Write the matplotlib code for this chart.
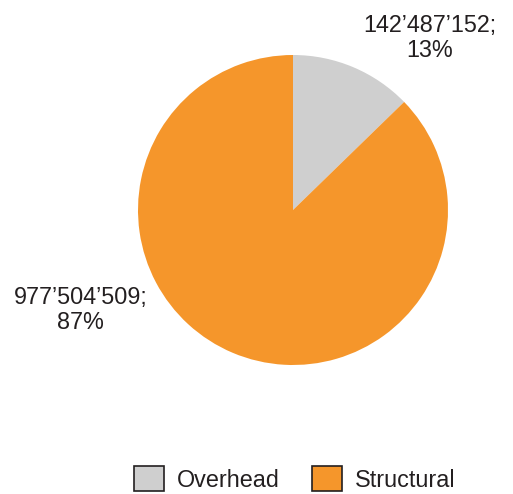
import matplotlib
matplotlib.use("Agg")
import matplotlib.pyplot as plt
from matplotlib.patches import Patch

plt.rcParams['font.family'] = ['Liberation Sans', 'DejaVu Sans']

categories = ['Overhead', 'Structural']
values = [142487152, 977504509]
percents = [13, 87]
colors = ['#CFCFCF', '#F5962B']
label_pos = [(0.88, 1.11), (-1.37, -0.645)]

W, H = 513, 494
fig = plt.figure(figsize=(W / 100, H / 100), dpi=100)

cx, cy, r = 293, 210, 155
ax = fig.add_axes([(cx - r) / W, (H - cy - r) / H, 2 * r / W, 2 * r / H])
ax.pie(values, colors=colors, startangle=90, counterclock=False, radius=1,
       wedgeprops=dict(linewidth=0))
ax.set_xlim(-1, 1)
ax.set_ylim(-1, 1)
ax.set_aspect('equal')
ax.axis('off')

for v, p, (x, y) in zip(values, percents, label_pos):
    txt = f"{v:,}".replace(',', '\u2019') + f";\n{p}%"
    ax.text(x, y, txt, ha='center', va='center', multialignment='center',
            fontsize=16.8, linespacing=1.1, color='#231F20', clip_on=False)

handles = [Patch(facecolor=c, edgecolor='#231F20', linewidth=1.2) for c in colors]
fig.legend(handles, categories, loc='center', bbox_to_anchor=(0.575, 1 - 479 / H),
           ncol=2, frameon=False, fontsize=16.8, handlelength=1.27,
           handleheight=1.27, handletextpad=0.55, columnspacing=1.4,
           labelcolor='#231F20')

fig.savefig('out.png', dpi=100)
